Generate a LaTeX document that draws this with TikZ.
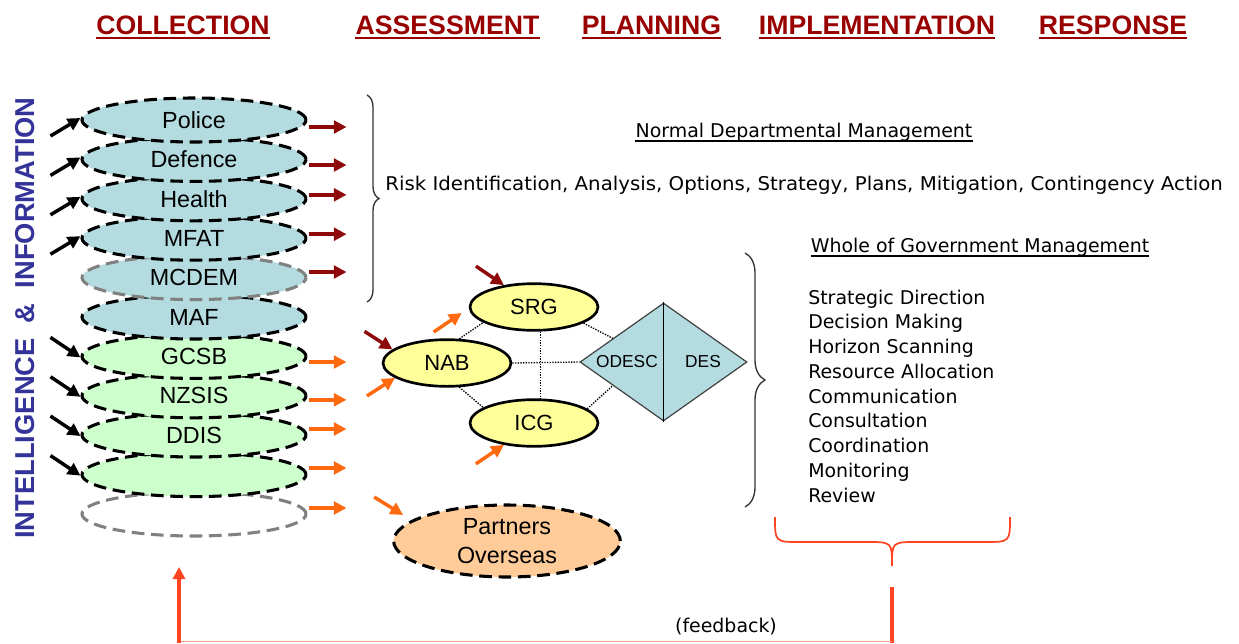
\documentclass[tikz,border=0pt]{standalone}
\usepackage{fontspec}
\setmainfont{Liberation Sans}
\newfontfamily\dvs{DejaVu Sans}
\usetikzlibrary{arrows.meta,shapes.geometric,decorations.pathreplacing,calc}
\definecolor{hdrred}{HTML}{990000}
\definecolor{arrred}{HTML}{8E0A0A}
\definecolor{intblue}{HTML}{333399}
\definecolor{tealfill}{HTML}{B4DCE0}
\definecolor{greenfill}{HTML}{CCFFCC}
\definecolor{yelfill}{HTML}{FFFF99}
\definecolor{peachfill}{HTML}{FFCC99}
\definecolor{orarrow}{HTML}{FF6A10}
\definecolor{fbred}{HTML}{FF4422}
\definecolor{fblight}{HTML}{FFA488}
\definecolor{bracegray}{HTML}{333333}
\begin{document}
\begin{tikzpicture}[x=0.75pt,y=-0.75pt,
  hdr/.style={font=\fontsize{20pt}{24pt}\selectfont\bfseries,text=hdrred,inner sep=0pt,anchor=base},
  hdrline/.style={draw=hdrred,line width=1.6pt},
  body/.style={font=\dvs\fontsize{14.2pt}{17pt}\selectfont,inner sep=0pt},
  stackell/.style={ellipse,minimum width=168pt,minimum height=33pt,inner sep=0pt,
     line width=2.3pt,dash pattern=on 9.5pt off 5pt,font=\fontsize{17.5pt}{20pt}\selectfont},
  tealell/.style={stackell,fill=tealfill,draw=black},
  greenell/.style={stackell,fill=greenfill,draw=black},
  yelell/.style={ellipse,minimum width=96pt,minimum height=35pt,inner sep=0pt,
     fill=yelfill,draw=black,line width=2pt,font=\fontsize{16.5pt}{19pt}\selectfont},
  arr/.style={line width=2.6pt,-{Triangle[length=9.5pt,width=9.5pt]}},
  blkarr/.style={arr,draw=black},
  redarr/.style={arr,draw=arrred},
  orarr/.style={arr,draw=orarrow},
  dotl/.style={densely dotted,line width=1pt},
  brc/.style={draw=bracegray,line width=1pt,decorate},
]
\useasboundingbox (0,0) rectangle (1239,643);

% headers
\node[hdr] (hcol) at (183,34) {COLLECTION};
\node[hdr] (hass) at (447.5,34) {ASSESSMENT};
\node[hdr] (hpla) at (651.5,34) {PLANNING};
\node[hdr] (himp) at (877,34) {IMPLEMENTATION};
\node[hdr] (hres) at (1113,34) {RESPONSE};
\foreach \h in {hcol,hass,hpla,himp,hres}{
  \draw[hdrline] ($(\h.base west)+(0,4)$) -- ($(\h.base east)+(0,4)$);
}

% vertical label
\node[rotate=90,font=\fontsize{20.5pt}{24pt}\selectfont\bfseries,text=intblue,inner sep=0pt]
  (vlab) at (25,318) {INTELLIGENCE\ \ \&\ \ INFORMATION};

% stack of ellipses (drawn bottom to top)
\node[stackell,draw=gray] (empty) at (194,514) {};
\node[greenell] (blank) at (194,474.6) {};
\node[greenell] (ddis) at (194,435) {DDIS};
\node[greenell] (nzsis) at (194,395.8) {NZSIS};
\node[greenell] (gcsb) at (194,356.4) {GCSB};
\node[tealell] (maf) at (194,317) {MAF};
\node[tealell,draw=gray] (mcdem) at (194,277.6) {MCDEM};
\node[tealell] (mfat) at (194,238.2) {MFAT};
\node[tealell] (health) at (194,198.8) {Health};
\node[tealell] (defence) at (194,159.4) {Defence};
\node[tealell] (police) at (194,120) {Police};

% incoming black arrows
\foreach \e in {police,defence,health,mfat}{
  \draw[blkarr] ($(\e.west)+(-30,16)$) -- ($(\e.west)+(0,-2)$);
}
\foreach \e in {gcsb,nzsis,ddis,blank}{
  \draw[blkarr] ($(\e.west)+(-30,-19)$) -- ($(\e.west)+(0,1)$);
}
% outgoing dark red arrows
\draw[redarr] ($(police.east)+(1,7)$) -- ++(38,0);
\draw[redarr] ($(defence.east)+(1,5.6)$) -- ++(38,0);
\draw[redarr] ($(health.east)+(1,-4)$) -- ++(38,0);
\draw[redarr] ($(mfat.east)+(1,-4)$) -- ++(38,0);
\draw[redarr] ($(mcdem.east)+(1,-5.6)$) -- ++(38,0);
% outgoing orange arrows
\draw[orarr] ($(gcsb.east)+(1,5.6)$) -- ++(38,0);
\draw[orarr] ($(nzsis.east)+(1,4)$) -- ++(38,0);
\draw[orarr] ($(ddis.east)+(1,-6)$) -- ++(38,0);
\draw[orarr] ($(blank.east)+(1,-6.6)$) -- ++(38,0);
\draw[orarr] ($(empty.east)+(1,-6)$) -- ++(38,0);

% brace 1
\draw[brc,decoration={brace,amplitude=9pt}] (367,95) -- (367,302);

% normal departmental management
\node[body,anchor=base] (ndm) at (804,137) {Normal Departmental Management};
\draw[line width=0.8pt] ($(ndm.base west)+(0,4)$) -- ($(ndm.base east)+(0,4)$);
\node[body,anchor=base west] (risk) at (385,190) {\scalebox{1.044}[1]{Risk Identification, Analysis, Options, Strategy, Plans, Mitigation, Contingency Action}};

% middle cluster
\node[yelell] (srg) at (534,307) {SRG};
\node[yelell] (nab) at (447,363) {NAB};
\node[yelell] (icg) at (534,423) {ICG};
\node[diamond,minimum width=125.25pt,minimum height=88.5pt,inner sep=0pt,
      fill=tealfill,draw=black!75,line width=0.9pt] (dia) at (663.5,362) {};
\draw[line width=1pt] (dia.north) -- (dia.south);
\node[font=\fontsize{13pt}{15pt}\selectfont,inner sep=0pt] (odesc) at (627,362) {ODESC};
\node[font=\fontsize{13pt}{15pt}\selectfont,inner sep=0pt] (des) at (703,362) {DES};

\draw[dotl] (nab.63) -- (srg.197);
\draw[dotl] (nab.-63) -- (icg.163);
\draw[dotl] (srg.-75) -- (icg.75);
\draw[dotl] (nab.east) -- (dia.west);
\draw[dotl] (srg.-18) -- (dia.155);
\draw[dotl] (icg.15) -- (dia.205);

\draw[redarr] ($(srg.144)+(-28,-19)$) -- (srg.144);
\draw[orarr] ($(srg.west)+(-35,25)$) -- ($(srg.west)+(-7,6)$);
\draw[redarr] ($(nab.166)+(-28,-18)$) -- (nab.166);
\draw[orarr] ($(nab.196)+(-28,18)$) -- (nab.196);
\draw[orarr] ($(icg.216)+(-28,19)$) -- (icg.216);

% partners overseas
\node[ellipse,minimum width=170pt,minimum height=54pt,inner sep=0pt,fill=peachfill,draw=black,
      line width=2.3pt,dash pattern=on 9.5pt off 5pt,align=center,
      font=\fontsize{17.5pt}{21.75pt}\selectfont] (partners) at (507,541) {Partners\\Overseas};
\draw[orarr] ($(partners.west)+(-18,-44)$) -- ($(partners.west)+(11,-26)$);

% brace 2
\draw[brc,decoration={brace,amplitude=15pt}] (745,253) -- (745,507);

% whole of government management
\node[body,anchor=base] (wgm) at (980,252) {Whole of Government Management};
\draw[line width=0.8pt] ($(wgm.base west)+(0,4)$) -- ($(wgm.base east)+(0,4)$);
\foreach \t [count=\i from 0] in {Strategic Direction,Decision Making,Horizon Scanning,Resource Allocation,Communication,Consultation,Coordination,Monitoring,Review}{
  \node[body,anchor=base west] (item\i) at (808,304+24.75*\i) {\t};
}

% orange response brace
\draw[draw=fbred,line width=1.3pt] (775,517) .. controls (775,542) .. (800,542) -- (867,542)
   .. controls (892,542) .. (892,566) .. controls (892,542) .. (917,542) -- (985,542)
   .. controls (1010,542) .. (1010,517);

% feedback loop
\coordinate (fbr) at (892,587);
\coordinate (fbrb) at (892,643);
\coordinate (fbl) at (179,643);
\coordinate (fbtip) at (179,567);
\draw[draw=fbred,line width=3pt] (fbr) -- (fbrb);
\draw[draw=fblight,line width=1pt] (179,641.5) -- (892,641.5);
\draw[draw=fbred,line width=2.5pt,-{Triangle[length=9pt,width=9pt]}] (fbl) -- (fbtip);
\node[body] (fblab) at (726,627) {(feedback)};
\end{tikzpicture}
\end{document}
